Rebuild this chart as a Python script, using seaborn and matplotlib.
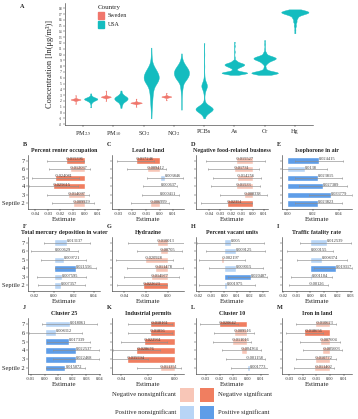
import numpy as np
import pandas as pd
import seaborn as sns
import matplotlib
import matplotlib.pyplot as plt
from matplotlib.patches import Patch, Rectangle
from matplotlib.ticker import FormatStrFormatter

matplotlib.use("Agg")

#%% panel A: pollutant concentrations
pollutants = ["PM2.5", "PM10", "SO2", "NO2", "PCBs", "As", "Cr", "Hg"]
pollutant_labels = [r"PM$_{2.5}$", r"PM$_{10}$", r"SO$_{2}$", r"NO$_{2}$", "PCBs", "As", "Cr", "Hg"]
paired = ["PM2.5", "PM10", "SO2", "NO2"]
countries = ["Sweden", "USA"]

# concentration levels and number of sites near each level
pm25_swe = ([1.5, 2.0, 2.15, 2.25, 2.35, 2.5, 3.0], [1, 1, 5, 8, 5, 1, 1])
pm25_usa = ([0.9, 1.5, 1.9, 2.2, 2.4, 2.6, 2.9, 3.3], [1, 1, 3, 7, 8, 4, 1, 1])
pm10_swe = ([2.0, 2.5, 2.62, 2.72, 2.82, 3.0, 3.8], [1, 1, 5, 8, 5, 1, 1])
pm10_usa = ([0.8, 1.4, 1.9, 2.2, 2.5, 2.8, 3.2, 3.8], [1, 2, 4, 6, 7, 5, 2, 1])
so2_swe = ([1.0, 1.45, 1.58, 1.68, 1.78, 1.95, 2.4], [1, 1, 5, 8, 5, 1, 1])
so2_usa = ([-1.0, 0.0, 1.0, 2.0, 3.0, 4.0, 5.0, 5.5, 6.0, 6.5, 7.0, 7.5, 8.0, 9.0, 10.0, 11.2],
           [1, 1, 2, 3, 4, 6, 9, 11, 12, 11, 9, 6, 4, 2, 1, 1])
no2_swe = ([2.1, 2.55, 2.65, 2.75, 2.85, 3.0, 3.4], [1, 1, 5, 8, 5, 1, 1])
no2_usa = ([0.5, 1.5, 2.5, 3.5, 4.5, 5.5, 6.0, 6.5, 7.0, 7.5, 8.0, 8.5, 9.2, 10.2],
           [1, 1, 1, 2, 4, 7, 10, 12, 13, 11, 7, 4, 2, 1])
pcbs_usa = ([-1.0, -0.5, 0.0, 0.4, 0.7, 1.0, 1.5, 2.5, 3.5, 4.2, 4.6, 5.0, 5.6, 6.5, 8.0, 10.0, 12.0],
            [1, 2, 6, 12, 14, 8, 3, 1, 2, 4, 5, 4, 2, 1, 1, 1, 1])
as_usa = ([6.5, 6.7, 6.85, 7.0, 7.2, 7.5, 7.8, 8.05, 8.3, 8.55, 8.9, 9.5, 10.5, 11.5, 12.2],
          [2, 8, 14, 8, 3, 3, 6, 10, 13, 9, 4, 1, 1, 1, 1])
cr_usa = ([6.5, 6.7, 6.85, 7.0, 7.3, 7.8, 8.5, 8.9, 9.2, 9.45, 9.75, 10.3, 11.0, 11.8, 12.5],
          [2, 8, 14, 8, 3, 2, 4, 7, 11, 13, 8, 3, 1, 1, 1])
hg_usa = ([13.7, 14.3, 15.0, 15.7, 16.3, 16.8, 17.1, 17.35, 17.6, 17.8],
          [1, 1, 2, 3, 4, 6, 10, 14, 8, 3])

violin_groups = [
    ("PM2.5", "Sweden", pm25_swe), ("PM2.5", "USA", pm25_usa),
    ("PM10", "Sweden", pm10_swe), ("PM10", "USA", pm10_usa),
    ("SO2", "Sweden", so2_swe), ("SO2", "USA", so2_usa),
    ("NO2", "Sweden", no2_swe), ("NO2", "USA", no2_usa),
    ("PCBs", "USA", pcbs_usa), ("As", "USA", as_usa),
    ("Cr", "USA", cr_usa), ("Hg", "USA", hg_usa),
]

# width, gap, bw_adjust per violin
violin_style = {
    ("PM2.5", "Sweden"): (1.0, 0.35, 0.6), ("PM2.5", "USA"): (1.0, 0.12, 0.8),
    ("PM10", "Sweden"): (1.0, 0.35, 0.6), ("PM10", "USA"): (1.0, 0.12, 0.8),
    ("SO2", "Sweden"): (1.0, 0.25, 0.6), ("SO2", "USA"): (1.0, 0.0, 0.8),
    ("NO2", "Sweden"): (1.0, 0.35, 0.6), ("NO2", "USA"): (1.0, 0.0, 0.8),
    ("PCBs", "USA"): (0.57, 0.0, 0.4), ("As", "USA"): (0.85, 0.0, 0.4),
    ("Cr", "USA"): (0.88, 0.0, 0.4), ("Hg", "USA"): (0.9, 0.0, 0.6),
}
country_colors = {"Sweden": "#F0766C", "USA": "#14BCBF"}

#%% panels B-M: septile estimates
septiles = ["7", "6", "5", "4", "3", "Septile 2"]
classes = ["Negative nonsignificant", "Negative significant",
           "Positive nonsignificant", "Positive significant"]
class_colors = {"Negative nonsignificant": "#F8C6B7", "Negative significant": "#F07E60",
                "Positive nonsignificant": "#B8D5F6", "Positive significant": "#5E9DE8"}

panel_letters = list("BCDEFGHIJKLM")
panel_titles = ["Percent renter occupation", "Lead in land", "Negative food-related business",
                "Isophorone in air", "Total mercury deposition in water", "Hydrazine",
                "Percent vacant units", "Traffic fatality rate", "Cluster 25",
                "Industrial permits", "Cluster 10", "Iron in land"]

est_b = [-0.015396, -0.012037, -0.024081, -0.025615, -0.014097, -0.009929]
lo_b = [-0.031, -0.029, -0.043, -0.045, -0.031, -0.027]
hi_b = [-0.0005, 0.004, -0.005, -0.006, 0.003, 0.007]
sig_b = [1, 0, 1, 1, 0, 0]

est_c = [-0.017246, -0.009412, 0.003846, 0.000637, 0.000411, -0.006999]
lo_c = [-0.031, -0.024, -0.009, -0.012, -0.013, -0.021]
hi_c = [-0.004, 0.005, 0.017, 0.013, 0.014, 0.007]
sig_c = [1, 0, 0, 0, 0, 0]

est_d = [-0.015527, -0.01731, -0.014256, -0.01533, -0.008338, -0.02351]
lo_d = [-0.043, -0.041, -0.036, -0.038, -0.030, -0.047]
hi_d = [0.011, 0.006, 0.008, 0.007, 0.013, -0.001]
sig_d = [0, 0, 0, 0, 0, 1]

est_e = [0.024415, 0.0138, 0.023815, 0.027389, 0.033779, 0.023823]
lo_e = [0.006, -0.004, 0.006, 0.009, 0.017, 0.006]
hi_e = [0.043, 0.031, 0.042, 0.046, 0.050, 0.042]
sig_e = [1, 0, 1, 1, 1, 1]

est_f = [0.013137, 0.000629, 0.009721, 0.021556, 0.007595, 0.007357]
lo_f = [-0.010, -0.023, -0.013, 0.001, -0.017, -0.016]
hi_f = [0.036, 0.024, 0.032, 0.042, 0.032, 0.031]
sig_f = [0, 0, 0, 1, 0, 0]

est_g = [-0.010013, -0.00705, -0.020928, -0.011478, -0.014977, -0.022623]
lo_g = [-0.036, -0.028, -0.047, -0.037, -0.040, -0.046]
hi_g = [0.016, 0.013, 0.005, 0.014, 0.010, -0.0005]
sig_g = [0, 0, 0, 0, 0, 1]

est_h = [0.005, 0.009125, -0.002197, 0.009015, 0.020487, 0.001975]
lo_h = [-0.021, -0.014, -0.020, -0.012, 0.003, -0.020]
hi_h = [0.031, 0.032, 0.016, 0.030, 0.033, 0.024]
sig_h = [0, 0, 0, 0, 1, 0]

est_i = [0.012539, 0.000155, 0.008374, 0.019317, 0.001104, -0.00126]
lo_i = [-0.008, -0.017, -0.010, 0.003, -0.014, -0.016]
hi_i = [0.030, 0.017, 0.027, 0.031, 0.016, 0.013]
sig_i = [0, 0, 0, 1, 0, 0]

est_j = [0.018061, 0.008312, 0.017339, 0.022537, 0.022468, 0.015072]
lo_j = [-0.002, -0.011, 0.002, 0.006, 0.006, 0.001]
hi_j = [0.038, 0.027, 0.033, 0.039, 0.039, 0.029]
sig_j = [0, 0, 1, 1, 1, 1]

est_k = [-0.018161, -0.01856, -0.022961, -0.028676, -0.035594, -0.011351]
lo_k = [-0.035, -0.035, -0.040, -0.046, -0.047, -0.028]
hi_k = [-0.002, -0.002, -0.006, -0.011, -0.020, 0.005]
sig_k = [1, 1, 1, 1, 1, 0]

est_l = [-0.020642, -0.009516, -0.011016, -0.004364, -0.001158, 0.001773]
lo_l = [-0.034, -0.024, -0.025, -0.018, -0.015, -0.012]
hi_l = [-0.007, 0.005, 0.003, 0.010, 0.013, 0.016]
sig_l = [1, 0, 0, 0, 0, 0]

est_m = [-0.010623, -0.018656, -0.007604, -0.005603, -0.010772, -0.011402]
lo_m = [-0.025, -0.032, -0.022, -0.020, -0.025, -0.026]
hi_m = [0.004, -0.005, 0.007, 0.009, 0.004, 0.003]
sig_m = [0, 1, 0, 0, 0, 0]

all_est = [est_b, est_c, est_d, est_e, est_f, est_g, est_h, est_i, est_j, est_k, est_l, est_m]
all_lo = [lo_b, lo_c, lo_d, lo_e, lo_f, lo_g, lo_h, lo_i, lo_j, lo_k, lo_l, lo_m]
all_hi = [hi_b, hi_c, hi_d, hi_e, hi_f, hi_g, hi_h, hi_i, hi_j, hi_k, hi_l, hi_m]
all_sig = [sig_b, sig_c, sig_d, sig_e, sig_f, sig_g, sig_h, sig_i, sig_j, sig_k, sig_l, sig_m]

# axis ranges and ticks per panel
panel_xlim = [(-0.046, 0.012), (-0.035, 0.018), (-0.052, 0.014), (-0.004, 0.050),
              (-0.026, 0.046), (-0.051, 0.015), (-0.022, 0.034), (-0.021, 0.031),
              (-0.012, 0.040), (-0.047, 0.007), (-0.037, 0.015), (-0.035, 0.016)]
panel_ticks = [[-0.04, -0.03, -0.02, -0.01, 0, 0.01], [-0.03, -0.02, -0.01, 0, 0.01],
               [-0.04, -0.03, -0.02, -0.01, 0, 0.01], [0, 0.02, 0.04],
               [-0.02, 0, 0.02, 0.04], [-0.04, -0.02, 0],
               [-0.02, -0.01, 0, 0.01, 0.02, 0.03], [-0.02, -0.01, 0, 0.01, 0.02, 0.03],
               [-0.01, 0, 0.01, 0.02, 0.03, 0.04], [-0.04, -0.02, 0],
               [-0.03, -0.02, -0.01, 0, 0.01], [-0.03, -0.02, -0.01, 0, 0.01]]

#%% figure setup
sns.set_theme(style="ticks")
plt.rcParams["font.family"] = ["Liberation Serif", "DejaVu Serif"]
plt.rcParams["mathtext.fontset"] = "stix"
plt.rcParams["axes.unicode_minus"] = False
plt.rcParams["axes.linewidth"] = 0.4

W, H = 358, 419
fig = plt.figure(figsize=(W / 100, H / 100), dpi=100)


def px_axes(left, top, width, height):
    return fig.add_axes([left / W, 1 - (top + height) / H, width / W, height / H])


#%% panel A
rows = []
for pol, ctry, (vals, counts) in violin_groups:
    for v, k in zip(vals, counts):
        rows += [(pol, ctry, v)] * k
conc = pd.DataFrame(rows, columns=["pollutant", "country", "conc"])

axA = px_axes(65, 3, 248, 122)
for pol, ctry, _ in violin_groups:
    sub = conc[(conc.pollutant == pol) & (conc.country == ctry)]
    w, g, bw = violin_style[(pol, ctry)]
    sns.violinplot(data=sub, x="pollutant", y="conc", hue="country",
                   hue_order=countries, order=pollutants, palette=country_colors,
                   dodge=pol in paired, width=w, gap=g, bw_adjust=bw, cut=0,
                   density_norm="width", inner=None, linewidth=0.3,
                   linecolor=country_colors[ctry], saturation=1, legend=False, ax=axA)

axA.set_xlim(-0.6, 7.6)
axA.set_ylim(-2.15, 18.9)
axA.set_yticks(range(-2, 19))
axA.set_xticks(range(len(pollutants)))
axA.set_xticklabels(pollutant_labels, fontsize=4.5)
axA.tick_params(axis="y", labelsize=2.6, length=1.2, width=0.3, pad=1)
axA.tick_params(axis="x", length=1.5, width=0.3, pad=1.5)
axA.set_xlabel("")
axA.set_ylabel("Concentration [ln(μg/m³)]", fontsize=6, labelpad=3)
sns.despine(ax=axA)
leg = axA.legend(handles=[Patch(color=country_colors[c], label=c) for c in countries],
                 title="Country", loc="upper left", bbox_to_anchor=(0.11, 1.03),
                 frameon=False, fontsize=4.3, title_fontsize=5, handlelength=1.1,
                 handleheight=1.3, labelspacing=0.4, handletextpad=0.6)
leg._legend_box.align = "left"
fig.text(20 / W, 1 - 6 / H, "A", fontsize=4.5, fontweight="bold", va="center")

#%% panels B-M
col_left = [28, 112, 196, 282]
col_width = [72, 72, 72, 70]
row_top = [155, 237, 318]
row_height = [54, 54, 56]

for p in range(12):
    r, c = divmod(p, 4)
    ax = px_axes(col_left[c], row_top[r], col_width[c], row_height[r])
    est = np.array(all_est[p])
    lo = np.array(all_lo[p])
    hi = np.array(all_hi[p])
    cls = [("Positive " if e > 0 else "Negative ") + ("significant" if s else "nonsignificant")
           for e, s in zip(est, all_sig[p])]
    d = pd.DataFrame({"septile": septiles, "est": est, "cls": cls})

    sns.barplot(data=d, x="est", y="septile", hue="cls", hue_order=classes,
                palette=class_colors, order=septiles, dodge=False, width=0.76,
                saturation=1, errorbar=None, legend=False, orient="h", ax=ax)
    ypos = np.arange(len(septiles))
    ax.errorbar(est, ypos, xerr=[est - lo, hi - est], fmt="none", ecolor="#8e8e8e",
                elinewidth=0.45, capsize=0.8, capthick=0.45, zorder=3)
    for y, e in zip(ypos, est):
        ax.text(e, y - 0.15, str(e), fontsize=3.2, ha="left", va="center",
                color="#3a3a3a", zorder=4)

    ax.set_xlim(*panel_xlim[p])
    ax.set_xticks(panel_ticks[p])
    ax.xaxis.set_major_formatter(FormatStrFormatter("%.2f"))
    ax.tick_params(axis="x", labelsize=3.2, length=1.2, width=0.3, pad=1)
    ax.tick_params(axis="y", labelsize=4.6, length=1.2, width=0.3, pad=1)
    if c > 0:
        ax.set_yticklabels([])
    ax.set_ylabel("")
    ax.set_xlabel("Estimate", fontsize=5, labelpad=1)
    ax.set_title(panel_titles[p], fontsize=4.3, fontweight="bold", pad=2.5)
    sns.despine(ax=ax)
    fig.text((col_left[c] - 5) / W, 1 - (row_top[r] - 11) / H, panel_letters[p],
             fontsize=4.5, fontweight="bold", va="center")

#%% significance legend
axL = fig.add_axes([0, 0, 1, 1], zorder=-1)
axL.set_xlim(0, W)
axL.set_ylim(H, 0)
axL.axis("off")
legend_rows = [("Negative nonsignificant", "Negative significant", 388),
               ("Positive nonsignificant", "Positive significant", 406)]
for left_lab, right_lab, top in legend_rows:
    axL.add_patch(Rectangle((180, top), 14, 14, color=class_colors[left_lab], lw=0))
    axL.add_patch(Rectangle((200, top), 14, 14, color=class_colors[right_lab], lw=0))
    axL.text(176, top + 6, left_lab, fontsize=4.8, ha="right", va="center")
    axL.text(218, top + 6, right_lab, fontsize=4.8, ha="left", va="center")

fig.savefig("out.png", dpi=100)
